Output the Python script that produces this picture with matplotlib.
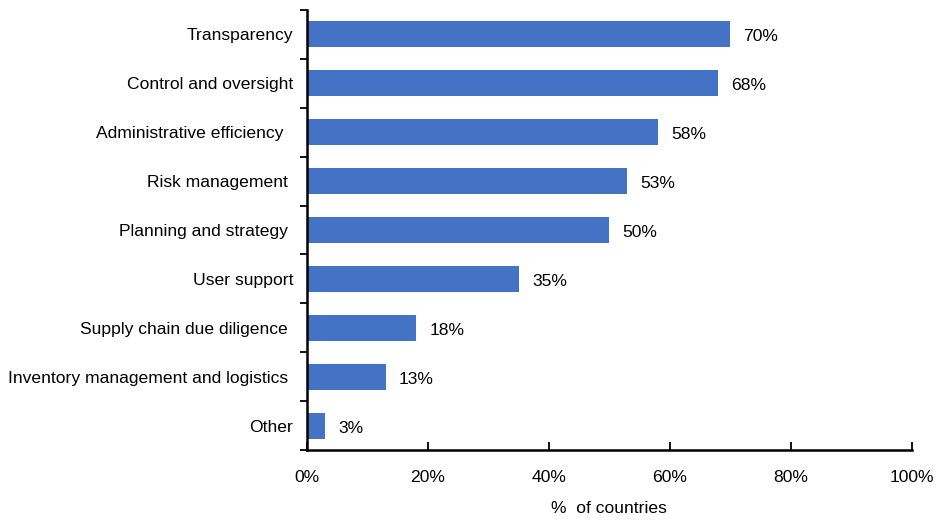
import matplotlib
matplotlib.use("Agg")
import matplotlib.pyplot as plt
import numpy as np
from matplotlib.ticker import FixedLocator, PercentFormatter

plt.rcParams['font.family'] = ['Liberation Sans', 'DejaVu Sans']

categories = [
    "Transparency",
    "Control and oversight",
    "Administrative efficiency  ",
    "Risk management ",
    "Planning and strategy ",
    "User support",
    "Supply chain due diligence ",
    "Inventory management and logistics ",
    "Other",
]
values = [70, 68, 58, 53, 50, 35, 18, 13, 3]
x_ticks = [0, 20, 40, 60, 80, 100]

FS = 12.6

fig = plt.figure(figsize=(9.36, 5.21), dpi=100)
ax = fig.add_axes([0.328, 0.136, 0.646, 0.845])

pos = np.arange(len(categories))
ax.barh(pos, values, height=0.53, color="#4472C4")
for p, v in zip(pos, values):
    ax.text(v + 2.2, p + 0.05, f"{v}%", va="center", ha="left", fontsize=FS)

ax.set_ylim(len(categories) - 0.5, -0.5)
ax.set_xlim(0, 100)
ax.set_yticks(pos)
ax.set_yticklabels(categories, fontsize=FS)
ax.yaxis.set_minor_locator(FixedLocator(np.arange(-0.5, len(categories), 1.0)))
ax.tick_params(axis="y", which="major", length=0, pad=10)
ax.tick_params(axis="y", which="minor", length=5, width=1.3, direction="out")

ax.set_xticks(x_ticks)
ax.xaxis.set_major_formatter(PercentFormatter(decimals=0))
ax.tick_params(axis="x", which="major", length=6, width=1.3, direction="in",
               labelsize=FS, pad=14)
ax.set_xlabel("%  of countries", fontsize=FS, labelpad=12)

for s in ["top", "right"]:
    ax.spines[s].set_visible(False)
for s in ["left", "bottom"]:
    ax.spines[s].set_linewidth(1.8)

fig.savefig("out.png", dpi=100)
